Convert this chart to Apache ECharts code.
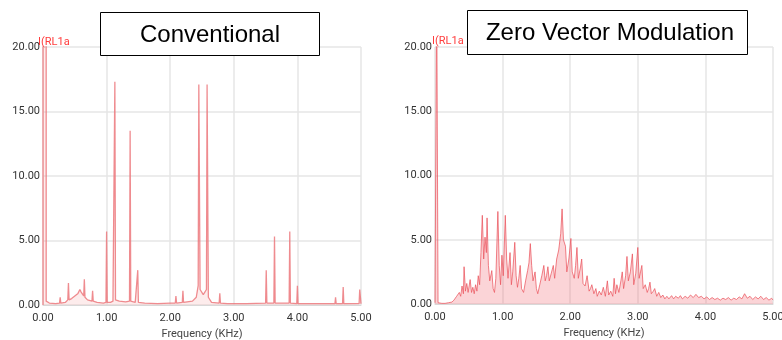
<!DOCTYPE html>
<html>
<head>
<meta charset="utf-8">
<script src="https://cdn.jsdelivr.net/npm/echarts@6/dist/echarts.min.js"></script>
<style>
html,body{margin:0;padding:0;background:#fff;}
#c{width:782px;height:340px;}
</style>
</head>
<body>
<div id="c"></div>
<script>
// ---- data (frequency in kHz, amplitude) ----
var titles = ["Conventional", "Zero Vector Modulation"];
var traceLabel = "I(RL1a";
var xName = "Frequency (KHz)";
var yTicks = [0, 5, 10, 15, 20];
var xTicks = [0, 1, 2, 3, 4, 5];

var convSpectrum = [
 [0,0],[0,25],[0.05,25],[0.05,0.3],[0.1,0.15],[0.2,0.1],[0.26,0.15],[0.27,0.6],[0.28,0.15],[0.35,0.2],
 [0.39,0.4],[0.40,1.7],[0.41,0.4],[0.45,0.5],[0.5,0.7],[0.55,0.9],[0.58,1.2],[0.6,1.0],[0.64,0.7],[0.65,2.0],
 [0.66,0.6],[0.7,0.4],[0.77,0.3],[0.78,1.1],[0.79,0.3],[0.85,0.2],[0.95,0.15],[0.99,0.2],[1.0,5.7],[1.01,0.2],
 [1.06,0.2],[1.1,0.3],[1.12,0.4],[1.13,17.3],[1.14,0.4],[1.2,0.3],[1.3,0.25],[1.36,0.3],[1.37,13.5],[1.38,0.3],
 [1.45,0.2],[1.48,0.2],[1.49,2.7],[1.50,0.2],[1.6,0.15],[1.8,0.1],[2.0,0.15],[2.08,0.15],[2.09,0.7],[2.10,0.15],
 [2.19,0.2],[2.2,1.1],[2.21,0.2],[2.35,0.3],[2.41,0.6],[2.44,1.5],[2.45,17.1],[2.47,1.2],[2.52,0.8],[2.57,1.2],
 [2.58,17.1],[2.60,0.6],[2.65,0.2],[2.77,0.15],[2.78,0.9],[2.79,0.15],[2.9,0.1],[3.2,0.1],[3.5,0.15],[3.51,2.7],
 [3.52,0.15],[3.63,0.15],[3.64,5.3],[3.65,0.15],[3.87,0.15],[3.88,5.7],[3.89,0.15],[3.99,0.1],[4.0,1.5],[4.01,0.1],
 [4.3,0.1],[4.59,0.1],[4.6,0.6],[4.61,0.1],[4.71,0.1],[4.72,1.4],[4.73,0.1],[4.97,0.1],[4.98,1.2],[5,0.1]
];

var zvmSpectrum = [
 [0,0.1],[0.02,0.1],[0.025,25],[0.04,25],[0.045,0.1],[0.1,0.05],[0.15,0.05],[0.2,0.1],[0.25,0.15],[0.28,0.3],
 [0.3,0.4],[0.32,0.6],[0.34,0.5],[0.36,0.9],[0.38,0.6],[0.4,1.4],[0.42,0.8],[0.43,2.9],[0.45,1.0],[0.47,1.6],
 [0.49,0.9],[0.52,1.9],[0.54,0.9],[0.56,1.3],[0.58,0.8],[0.6,1.5],[0.62,1.0],[0.64,2.2],[0.66,1.5],[0.68,4.0],
 [0.70,6.9],[0.72,3.5],[0.74,5.2],[0.76,4.0],[0.77,6.7],[0.79,3.0],[0.81,1.8],[0.84,2.6],[0.86,1.2],[0.88,0.9],
 [0.9,2.0],[0.93,7.2],[0.95,3.0],[0.97,1.5],[0.99,3.8],[1.01,2.2],[1.04,6.9],[1.06,3.5],[1.08,2.0],[1.11,4.0],
 [1.13,1.5],[1.15,2.5],[1.18,4.8],[1.2,2.2],[1.22,1.3],[1.24,2.0],[1.26,3.0],[1.28,1.2],[1.31,0.9],[1.34,1.8],
 [1.37,2.6],[1.39,3.2],[1.41,4.7],[1.43,3.0],[1.45,1.8],[1.48,2.5],[1.5,1.2],[1.52,0.8],[1.55,1.5],[1.58,2.2],
 [1.61,3.0],[1.63,1.8],[1.65,2.2],[1.67,2.9],[1.69,1.8],[1.72,2.4],[1.75,3.0],[1.77,2.0],[1.8,3.5],[1.83,4.2],
 [1.86,5.5],[1.88,7.4],[1.9,5.0],[1.93,4.5],[1.95,2.5],[1.98,3.5],[2.01,5.1],[2.03,2.5],[2.06,2.0],[2.08,3.0],
 [2.1,4.4],[2.12,2.0],[2.15,2.8],[2.17,3.5],[2.19,1.6],[2.22,1.4],[2.25,2.2],[2.28,1.0],[2.3,1.2],[2.32,1.5],
 [2.35,0.8],[2.38,1.2],[2.4,0.6],[2.43,1.0],[2.46,0.7],[2.49,1.3],[2.52,0.6],[2.55,1.8],[2.57,0.7],[2.6,1.0],
 [2.63,0.6],[2.65,2.0],[2.67,0.8],[2.69,1.5],[2.72,0.9],[2.75,1.8],[2.77,2.5],[2.79,1.2],[2.82,2.2],[2.84,3.7],
 [2.86,1.8],[2.89,2.5],[2.92,3.9],[2.94,1.5],[2.97,2.4],[3.0,4.4],[3.02,2.0],[3.04,2.5],[3.06,3.0],[3.08,1.2],
 [3.11,1.5],[3.14,0.9],[3.16,1.2],[3.18,1.7],[3.2,0.8],[3.23,1.0],[3.25,1.2],[3.28,0.6],[3.31,0.9],[3.34,0.5],
 [3.37,0.7],[3.4,0.4],[3.43,0.6],[3.46,0.4],[3.5,0.65],[3.53,0.4],[3.56,0.6],[3.6,0.45],[3.63,0.65],[3.66,0.4],
 [3.7,0.6],[3.74,0.45],[3.78,0.7],[3.82,0.5],[3.86,0.75],[3.9,0.5],[3.94,0.6],[3.98,0.4],[4.02,0.55],[4.06,0.35],
 [4.1,0.5],[4.14,0.35],[4.18,0.45],[4.22,0.3],[4.26,0.45],[4.3,0.35],[4.34,0.5],[4.38,0.3],[4.42,0.45],[4.46,0.35],
 [4.5,0.55],[4.54,0.4],[4.58,0.8],[4.62,0.45],[4.66,0.6],[4.7,0.35],[4.74,0.55],[4.78,0.4],[4.82,0.6],[4.86,0.35],
 [4.9,0.5],[4.94,0.3],[4.98,0.45],[5.0,0.3]
];

// ---- chart ----
var chart = echarts.init(document.getElementById('c'), null, {renderer: 'canvas'});
var labelFont = 'Roboto';
function xAxisCfg(gi) {
  return {
    gridIndex: gi, type: 'value', min: xTicks[0], max: xTicks[xTicks.length - 1], interval: 1,
    name: xName, nameLocation: 'middle', nameGap: 22,
    nameTextStyle: {fontFamily: labelFont, fontSize: 11, color: '#444'},
    axisLine: {show: true, lineStyle: {color: '#d8d8d8'}},
    axisTick: {show: false},
    axisLabel: {fontFamily: labelFont, fontSize: 11, color: '#333', margin: 8,
      formatter: function (v) { return v.toFixed(2); }},
    splitLine: {show: true, lineStyle: {color: '#e6e6e6', width: 1.5}}
  };
}
function yAxisCfg(gi) {
  return {
    gridIndex: gi, type: 'value', min: yTicks[0], max: yTicks[yTicks.length - 1], interval: 5,
    axisLine: {show: false}, axisTick: {show: false},
    axisLabel: {fontFamily: labelFont, fontSize: 11, color: '#333', margin: 3,
      formatter: function (v) { return v.toFixed(2); }},
    splitLine: {show: true, lineStyle: {color: '#e6e6e6', width: 1.5}}
  };
}
var option = {
  backgroundColor: '#fff',
  animation: false,
  grid: [
    {left: 43, right: 421, top: 47, bottom: 35, containLabel: false, outerBoundsMode: 'none'},
    {left: 435, right: 9, top: 47, bottom: 36, containLabel: false, outerBoundsMode: 'none'}
  ],
  xAxis: [xAxisCfg(0), xAxisCfg(1)],
  yAxis: [yAxisCfg(0), yAxisCfg(1)],
  series: [
    {type: 'line', xAxisIndex: 0, yAxisIndex: 0, data: convSpectrum, showSymbol: false,
     lineStyle: {color: 'rgba(236,120,125,0.85)', width: 1.3}, clip: true,
     areaStyle: {color: 'rgba(245,150,150,0.25)'}},
    {type: 'line', xAxisIndex: 1, yAxisIndex: 1, data: zvmSpectrum, showSymbol: false,
     lineStyle: {color: 'rgba(235,85,95,0.75)', width: 1}, clip: true,
     areaStyle: {color: 'rgba(243,110,120,0.42)'}}
  ],
  graphic: [
    {type: 'text', x: 38, y: 42, z: 50, style: {text: traceLabel, fill: '#ff3c3c', font: '11px Roboto', textAlign: 'left', textVerticalAlign: 'middle', align: 'left', verticalAlign: 'middle'}},
    {type: 'text', x: 432, y: 41, z: 50, style: {text: traceLabel, fill: '#ff3c3c', font: '11px Roboto', textAlign: 'left', textVerticalAlign: 'middle', align: 'left', verticalAlign: 'middle'}},
    {type: 'rect', z: 60, shape: {x: 100.5, y: 12.5, width: 219, height: 43}, style: {fill: '#fff', stroke: '#000', lineWidth: 1}},
    {type: 'text', z: 61, x: 210, y: 35, style: {text: titles[0], fill: '#000', font: '24px "Liberation Sans"', textAlign: 'center', textVerticalAlign: 'middle', align: 'center', verticalAlign: 'middle'}},
    {type: 'rect', z: 60, shape: {x: 467.5, y: 10.5, width: 280, height: 44}, style: {fill: '#fff', stroke: '#000', lineWidth: 1}},
    {type: 'text', z: 61, x: 610, y: 33, style: {text: titles[1], fill: '#000', font: '24px "Liberation Sans"', textAlign: 'center', textVerticalAlign: 'middle', align: 'center', verticalAlign: 'middle'}}
  ]
};
chart.setOption(option);
</script>
</body>
</html>
